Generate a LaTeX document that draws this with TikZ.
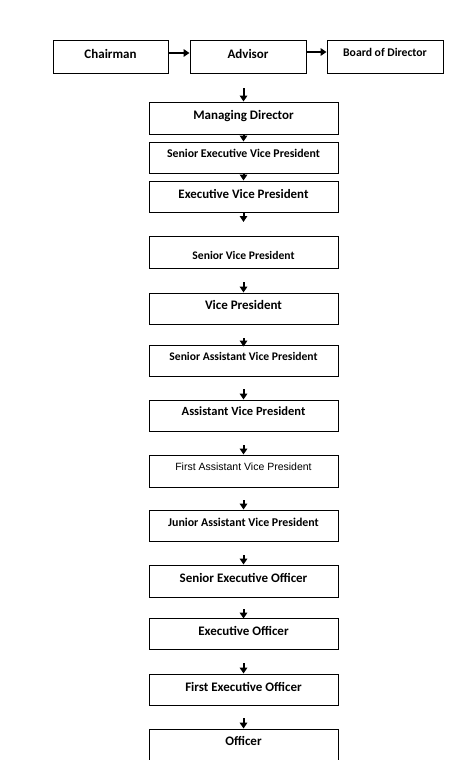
\documentclass[tikz,border=0pt]{standalone}
\usepackage{fontspec}
\setmainfont{Carlito}
\newfontfamily\arialf{Liberation Sans}
\usetikzlibrary{arrows.meta}
\newcommand\fs[1]{\fontsize{#1}{#1}\selectfont\bfseries}
\begin{document}
\begin{tikzpicture}[x=1pt,y=-1pt,
  box/.style={draw=black,line width=0.9pt,minimum width=189pt,minimum height=31pt,inner sep=0pt},
  topbox/.style={draw=black,line width=0.9pt,minimum width=115pt,minimum height=33pt,inner sep=0pt},
  txt/.style={font=\fs{13},inner sep=0pt,text height=0.7em,text depth=0.2em,yshift=-1.8pt},
  txtr/.style={font=\arialf\fontsize{10.5}{11}\selectfont,inner sep=0pt,text height=0.7em,text depth=0.2em,yshift=-1.5pt},
  arr/.style={line width=2pt,-{Triangle[width=7.5pt,length=6pt]}}]
\useasboundingbox (0,0) rectangle (452,760);
\clip (0,0) rectangle (452,760);
\fill[white] (0,0) rectangle (452,760);
% top row
\node[topbox] (ch) at (110.5,56.5) {};
\node[txt] at (110.5,54) {Chairman};
\node[topbox,minimum width=116pt] (adv) at (248,56.5) {};
\node[txt] at (248,54) {Advisor};
\node[topbox,minimum width=116pt] (bod) at (385,56.5) {};
\node[txt,font=\fs{11.7}] at (385,52) {Board of Director};
\draw[arr] ([yshift=3.5pt]ch.east) -- ([yshift=3.5pt]adv.west);
\draw[arr] ([yshift=4.5pt]adv.east) -- ([yshift=4.5pt]bod.west);
% column
\node[box,minimum height=32pt] (md) at (243.5,118) {};
\node[txt] at (243.5,115) {Managing Director};
\node[box] (sevp) at (243.5,157.5) {};
\node[txt,font=\fs{11.8}] at (243.5,153) {Senior Executive Vice President};
\node[box] (evp) at (243.5,196.5) {};
\node[txt,font=\fs{12.9}] at (243.5,194) {Executive Vice President};
\node[box,minimum height=32pt] (svp) at (243.5,252) {};
\node[txt,font=\fs{11.6}] at (243.5,255) {Senior Vice President};
\node[box] (vp) at (243.5,308.5) {};
\node[txt] at (243.5,305) {Vice President};
\node[box] (savp) at (243.5,360.5) {};
\node[txt,font=\fs{11.6}] at (243.5,356) {Senior Assistant Vice President};
\node[box] (avp) at (243.5,415.5) {};
\node[txt,font=\fs{12.5}] at (243.5,411) {Assistant Vice President};
\node[box,minimum height=32pt] (favp) at (243.5,471) {};
\node[txtr] at (243.5,466) {First Assistant Vice President};
\node[box] (javp) at (243.5,525.5) {};
\node[txt,font=\fs{11.9}] at (243.5,522) {Junior Assistant Vice President};
\node[box,minimum height=32pt] (seo) at (243.5,581) {};
\node[txt] at (243.5,578) {Senior Executive Officer};
\node[box] (eo) at (243.5,633.5) {};
\node[txt] at (243.5,631) {Executive Officer};
\node[box] (feo) at (243.5,689.5) {};
\node[txt] at (243.5,687) {First Executive Officer};
\node[box,minimum height=34pt] (off) at (243.5,746) {};
\node[txt] at (243.5,741) {Officer};
% arrows
\coordinate (a1) at (243.5,88);
\coordinate (a4) at (243.5,222);
\draw[arr] (a1) -- (md.north);
\draw[arr] (md.south) -- (sevp.north);
\draw[arr] (sevp.south) -- (evp.north);
\draw[arr] (evp.south) -- (a4);
\coordinate (a5) at (243.5,282);
\draw[arr] (a5) -- (vp.north);
\coordinate (a6) at (243.5,338);
\draw[arr] (a6) -- ([yshift=-2pt]savp.north);
\coordinate (a7) at (243.5,389);
\draw[arr] (a7) -- (avp.north);
\coordinate (a8) at (243.5,445);
\draw[arr] (a8) -- (favp.north);
\coordinate (a9) at (243.5,500);
\draw[arr] (a9) -- (javp.north);
\coordinate (a10) at (243.5,555);
\draw[arr] (a10) -- (seo.north);
\coordinate (a11) at (243.5,609);
\draw[arr] (a11) -- ([yshift=-1pt]eo.north);
\coordinate (a12) at (243.5,663);
\draw[arr] (a12) -- (feo.north);
\coordinate (a13) at (243.5,718);
\draw[arr] (a13) -- (off.north);
\end{tikzpicture}
\end{document}
